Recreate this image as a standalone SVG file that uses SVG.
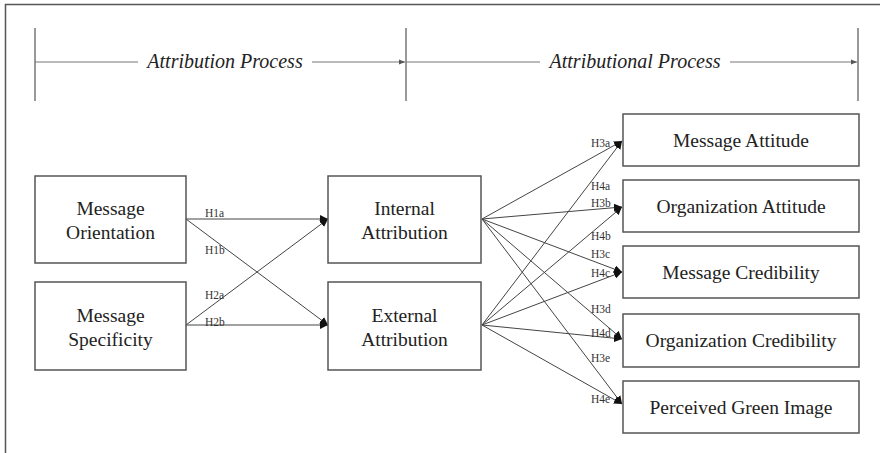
<svg xmlns="http://www.w3.org/2000/svg" width="880" height="453" viewBox="0 0 880 453">
<defs>
<marker id="ah" viewBox="0 0 10 10" refX="10" refY="5" markerWidth="8" markerHeight="8" markerUnits="userSpaceOnUse" orient="auto">
<path d="M0,0 L10,5 L0,10 Z" fill="#111"/>
</marker>
<marker id="ahs" viewBox="0 0 10 10" refX="10" refY="5" markerWidth="6" markerHeight="6" markerUnits="userSpaceOnUse" orient="auto">
<path d="M0,1 L10,5 L0,9 Z" fill="#555"/>
</marker>
<style>
.box{fill:#fff;stroke:#555;stroke-width:1.5}
.nt{font-family:"Liberation Serif","Times New Roman",serif;font-size:19.5px;fill:#222;text-anchor:middle}
.hd{font-family:"Liberation Serif","Times New Roman",serif;font-size:20px;font-style:italic;fill:#222;text-anchor:middle}
.lb{font-family:"Liberation Serif","Times New Roman",serif;font-size:11.5px;fill:#333}
.cn{stroke:#444;stroke-width:1;fill:none;marker-end:url(#ah)}
.ax{stroke:#777;stroke-width:1;fill:none}
.bar{stroke:#777;stroke-width:1.5}
.frame{stroke:#555;stroke-width:1.5;fill:none}
</style>
</defs>
<rect width="880" height="453" fill="#fff"/>
<path class="frame" d="M5.5,453 V4.5 H880"/>

<g id="header">
<line class="bar" x1="35" y1="28" x2="35" y2="101"/>
<line class="bar" x1="406" y1="28" x2="406" y2="101"/>
<line class="bar" x1="858" y1="28" x2="858" y2="101"/>
<line class="ax" x1="35" y1="62" x2="138" y2="62"/>
<line class="ax" x1="312" y1="62" x2="405" y2="62" marker-end="url(#ahs)"/>
<line class="ax" x1="406" y1="62" x2="540" y2="62"/>
<line class="ax" x1="730" y1="62" x2="857" y2="62" marker-end="url(#ahs)"/>
<text class="hd" x="225" y="68">Attribution Process</text>
<text class="hd" x="635" y="68">Attributional Process</text>
</g>

<g id="connectors">
<line class="cn" x1="186" y1="219" x2="328" y2="219"/>
<line class="cn" x1="186" y1="219" x2="328" y2="325"/>
<line class="cn" x1="186" y1="325" x2="328" y2="219"/>
<line class="cn" x1="186" y1="325" x2="328" y2="325"/>
<line class="cn" x1="482" y1="219" x2="622" y2="141"/>
<line class="cn" x1="482" y1="219" x2="622" y2="207"/>
<line class="cn" x1="482" y1="219" x2="622" y2="272"/>
<line class="cn" x1="482" y1="219" x2="622" y2="339"/>
<line class="cn" x1="482" y1="219" x2="622" y2="404"/>
<line class="cn" x1="482" y1="325" x2="622" y2="141"/>
<line class="cn" x1="482" y1="325" x2="622" y2="207"/>
<line class="cn" x1="482" y1="325" x2="622" y2="272"/>
<line class="cn" x1="482" y1="325" x2="622" y2="339"/>
<line class="cn" x1="482" y1="325" x2="622" y2="404"/>
<text class="lb" x="205" y="217">H1a</text>
<text class="lb" x="205" y="254">H1b</text>
<text class="lb" x="205" y="299">H2a</text>
<text class="lb" x="205" y="326">H2b</text>
<text class="lb" x="591" y="147">H3a</text>
<text class="lb" x="591" y="190">H4a</text>
<text class="lb" x="591" y="207">H3b</text>
<text class="lb" x="591" y="240">H4b</text>
<text class="lb" x="591" y="258">H3c</text>
<text class="lb" x="591" y="277">H4c</text>
<text class="lb" x="591" y="313">H3d</text>
<text class="lb" x="591" y="337">H4d</text>
<text class="lb" x="591" y="362">H3e</text>
<text class="lb" x="591" y="403">H4e</text>
</g>

<g id="message-orientation">
<rect class="box" x="35" y="176" width="151" height="87"/>
<text class="nt" x="110.5" y="215">Message</text>
<text class="nt" x="110.5" y="239">Orientation</text>
</g>
<g id="message-specificity">
<rect class="box" x="35" y="282" width="151" height="88"/>
<text class="nt" x="110.5" y="322">Message</text>
<text class="nt" x="110.5" y="346">Specificity</text>
</g>
<g id="internal-attribution">
<rect class="box" x="328" y="176" width="153" height="87"/>
<text class="nt" x="404.5" y="215">Internal</text>
<text class="nt" x="404.5" y="239">Attribution</text>
</g>
<g id="external-attribution">
<rect class="box" x="328" y="282" width="153" height="88"/>
<text class="nt" x="404.5" y="322">External</text>
<text class="nt" x="404.5" y="346">Attribution</text>
</g>
<g id="message-attitude">
<rect class="box" x="623" y="114" width="236" height="52"/>
<text class="nt" x="741" y="147">Message Attitude</text>
</g>
<g id="organization-attitude">
<rect class="box" x="623" y="180" width="236" height="52"/>
<text class="nt" x="741" y="213">Organization Attitude</text>
</g>
<g id="message-credibility">
<rect class="box" x="623" y="246" width="236" height="52"/>
<text class="nt" x="741" y="279">Message Credibility</text>
</g>
<g id="organization-credibility">
<rect class="box" x="623" y="314" width="236" height="53"/>
<text class="nt" x="741" y="347">Organization Credibility</text>
</g>
<g id="perceived-green-image">
<rect class="box" x="623" y="381" width="236" height="52"/>
<text class="nt" x="741" y="414">Perceived Green Image</text>
</g>
</svg>
